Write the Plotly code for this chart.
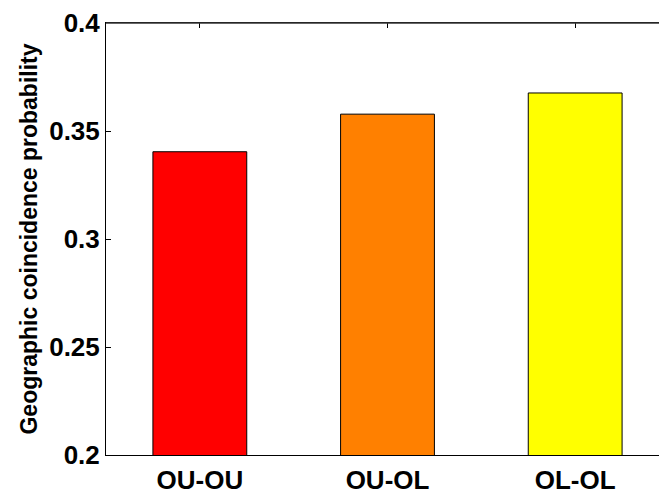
import plotly.graph_objects as go

categories = ["OU-OU", "OU-OL", "OL-OL"]
values = [0.3404, 0.3578, 0.3676]
colors = ["#FF0000", "#FF8000", "#FFFF00"]
yticks = [0.2, 0.25, 0.3, 0.35, 0.4]
ytick_labels = ["0.2", "0.25", "0.3", "0.35", "0.4"]

xpos = list(range(1, len(categories) + 1))

fig = go.Figure()
fig.add_trace(go.Bar(
    x=xpos, y=values, width=0.5,
    marker=dict(color=colors, line=dict(color="black", width=1)),
    base=0,
))

font = "Liberation Sans, Arial, Helvetica, sans-serif"
# page body has an 8px margin, so the figure is shifted by 8px
fig.update_layout(
    width=659, height=487,
    margin=dict(l=98, r=0, t=9, b=34),
    plot_bgcolor="white", paper_bgcolor="white",
    showlegend=False,
    font=dict(family=font, size=26, color="black"),
)
fig.update_xaxes(
    range=[0.5, 0.5 + 561 / 188],
    tickvals=xpos, ticktext=["<b>%s</b>" % c for c in categories],
    ticks="inside", ticklen=5, tickcolor="black", tickwidth=1,
    showline=True, linecolor="black", linewidth=1, mirror="ticks",
    showgrid=False, zeroline=False, layer="below traces",
    tickfont=dict(family=font, size=26, color="black"),
    ticklabeloverflow="allow", ticklabelstandoff=2,
)
fig.update_yaxes(
    range=[0.2, 0.4],
    tickvals=yticks, ticktext=["<b>%s</b>" % t for t in ytick_labels],
    ticks="inside", ticklen=5, tickcolor="black", tickwidth=1,
    showline=True, linecolor="black", linewidth=1, mirror="ticks",
    showgrid=False, zeroline=False,
    tickfont=dict(family=font, size=26, color="black"),
    ticklabeloverflow="allow",
    title=dict(text="<b>Geographic coincidence probability</b>",
               font=dict(family=font, size=23, color="black"), standoff=5),
)
# top frame edge
fig.add_shape(type="line", xref="paper", yref="paper", x0=0, x1=1, y0=1, y1=1,
              line=dict(color="#333333", width=1.5), layer="above")

fig.write_html("out.html")
